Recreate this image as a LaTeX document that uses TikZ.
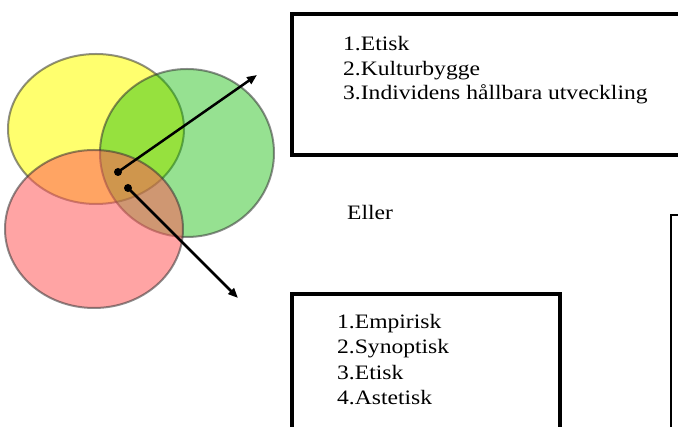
\documentclass[tikz,border=0pt]{standalone}
\usepackage{fontspec}
\setmainfont[FakeStretch=1.15]{Liberation Serif}
\usepackage{xcolor}
\usepackage{tikz}
\usetikzlibrary{arrows.meta}
\usetikzlibrary{positioning}
\definecolor{yfill}{RGB}{255,255,110}
\definecolor{gfill}{RGB}{12,186,0}
\definecolor{rfill}{RGB}{255,90,90}
\colorlet{rim}{black!80}
\tikzstyle{set}=[draw=rim,draw opacity=.55,line width=2pt]
\tikzstyle{dot}=[circle,fill=black,inner sep=0pt,minimum size=8pt]
\tikzstyle{pick}=[line width=2.5pt,-{Triangle[length=10pt,width=8pt]}]
\tikzstyle{frame}=[draw,line width=4pt,inner sep=0pt]
\tikzstyle{list}=[align=left,inner sep=0pt,anchor=base west,font=\fontsize{20.5}{24.5}\selectfont]

\begin{document}
\begin{tikzpicture}[x=1pt,y=1pt]
	\useasboundingbox (0,0) rectangle (678,427);
	\clip (0,0) rectangle (678,427);
	\filldraw[set,fill=yfill] (96,298) ellipse [x radius=88,y radius=75];
	\filldraw[set,fill=gfill,fill opacity=.43] (187,274) ellipse [x radius=87,y radius=84];
	\filldraw[set,fill=rfill,fill opacity=.55] (94,198) ellipse [x radius=89,y radius=79];
	% boxes run off the page
	\node[frame,minimum width=420pt,minimum height=141pt,anchor=north west] (top) at (290,415) {};
	\node[frame,minimum width=268pt,minimum height=160pt,anchor=north west] (low) at (290,135) {};
	\node[draw,line width=2pt,inner sep=0pt,minimum width=60pt,minimum height=240pt,anchor=north west] (side) at (670,213) {};
	\node[list] (topl) at (343,327) {1.Etisk\\2.Kulturbygge\\3.Individens hållbara utveckling};
	\node[list,font=\fontsize{20.5}{25.5}\selectfont] (lowl) at (337,22) {1.Empirisk\\2.Synoptisk\\3.Etisk\\4.Astetisk};
	\node[list] (or) at (347,207) {Eller};
	\node[dot] (d1) at (118,255) {};
	\node[dot] (d2) at (128,239) {};
	\coordinate (e1) at (257,352);
	\coordinate (e2) at (238,129);
	\draw[pick] (d1.center) -- (e1);
	\draw[pick] (d2.center) -- (e2);
\end{tikzpicture}
\end{document}
